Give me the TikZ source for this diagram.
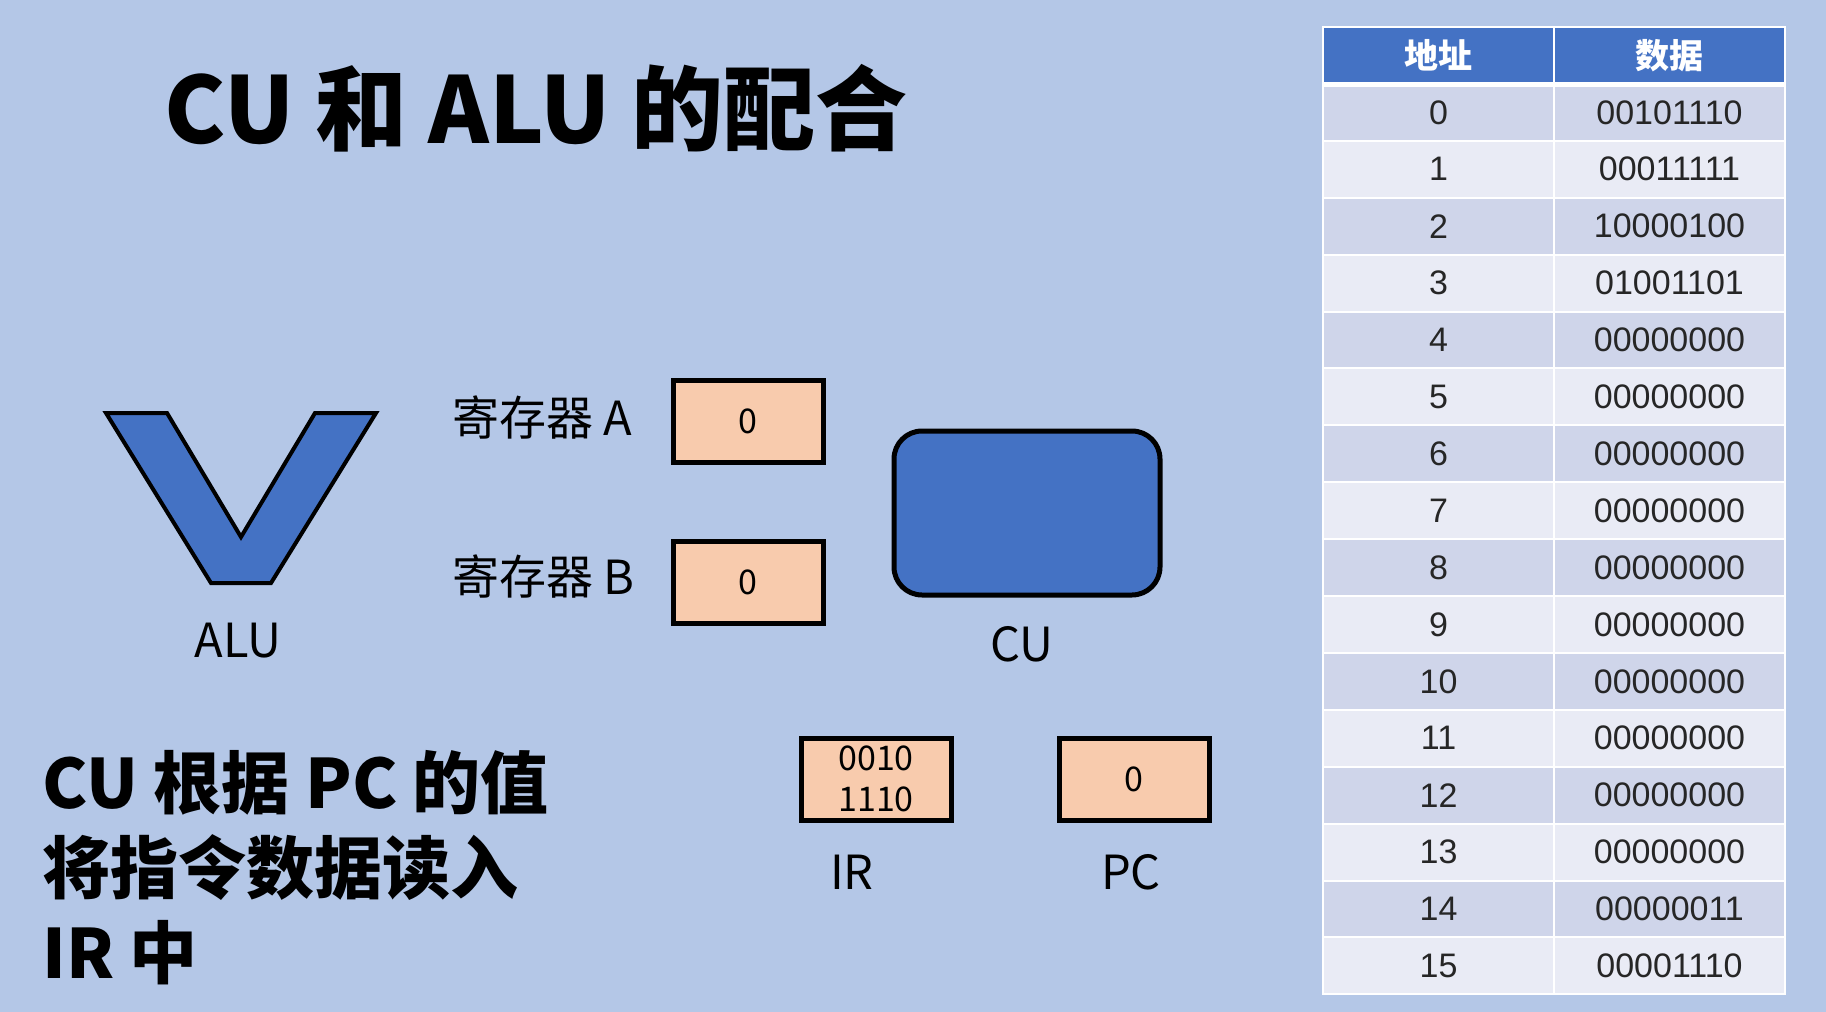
\documentclass[tikz,border=0pt]{standalone}
\usepackage{fontspec}
\setmainfont{Liberation Sans}
\newfontfamily\cjk{Noto Sans CJK SC}
\definecolor{bgblue}{HTML}{B4C7E7}
\definecolor{cublue}{HTML}{4472C4}
\definecolor{regfill}{HTML}{F8CBAD}
\definecolor{row0}{HTML}{CFD5EA}
\definecolor{row1}{HTML}{E9EBF5}

\begin{document}
\begin{tikzpicture}[x=0.5pt, y=-0.5pt,
    regbox/.style={draw, line width=2.5pt, fill=regfill, minimum width=75pt, minimum height=41pt, inner sep=0pt, align=center, font=\cjk\fontsize{17}{20.5}\selectfont},
    cubox/.style={draw, line width=2.5pt, fill=cublue, rounded corners=14pt, minimum width=133pt, minimum height=82pt},
    lbl/.style={font=\cjk\fontsize{23.5}{28}\selectfont},
    cell/.style={draw=white, line width=1pt, minimum width=115.5pt, minimum height=28.45pt, inner sep=0pt, anchor=north west, text=black!85, font=\fontsize{17}{20}\selectfont},
    hdrcell/.style={cell, fill=cublue, text=white, font=\cjk\bfseries\fontsize{17}{20}\selectfont}]
    % background
    \fill[bgblue] (0,0) rectangle (1826,1012);

    % Title
    \node[font=\cjk\bfseries\fontsize{46}{54}\selectfont] (title) at (536,108) {CU 和 ALU 的配合};

    % ALU
    \draw[line width=2pt, fill=cublue, line join=miter] (106,413) -- (167,413) -- (241,537) -- (315,413) -- (376,413) -- (271,583) -- (211,583) -- cycle;
    \node[lbl] (alulbl) at (238,641) {ALU};

    % Registers
    \node[lbl, anchor=west, inner sep=0pt] (regAlbl) at (452,417) {寄存器 A};
    \node[regbox] (regA) at (748,421) {0};
    \node[lbl, anchor=west, inner sep=0pt] (regBlbl) at (452,576) {寄存器 B};
    \node[regbox] (regB) at (748,582) {0};

    % CU
    \node[cubox] (cu) at (1027,513) {};
    \node[lbl] (culbl) at (1022,644) {CU};

    % IR and PC
    \node[regbox] (ir) at (876,779) {0010\\1110};
    \node[lbl] (irlbl) at (852,872) {IR};
    \node[regbox] (pc) at (1134,779) {0};
    \node[lbl] (pclbl) at (1131,872) {PC};

    % Step text
    \node[anchor=west, inner sep=0pt, align=left, font=\cjk\bfseries\fontsize{34}{42.5}\selectfont] (step) at (42,868) {CU 根据 PC 的值\\将指令数据读入\\IR 中};

    % Memory table
    \node[hdrcell] (hAddr) at (1322,26) {地址};
    \node[hdrcell] (hData) at (1553,26) {数据};
    \foreach \d [count=\i from 0] in {00101110,00011111,10000100,01001101,00000000,00000000,00000000,00000000,00000000,00000000,00000000,00000000,00000000,00000000,00000011,00001110}{
        \pgfmathtruncatemacro\shade{mod(\i,2)}
        \node[cell, fill=row\shade] (addr\i) at (1322,82.9+56.9*\i) {\i};
        \node[cell, fill=row\shade] (data\i) at (1553,82.9+56.9*\i) {\d};
    }
    \draw[white, line width=2.5pt] (hAddr.south west) -- (hData.south east);
\end{tikzpicture}
\end{document}
